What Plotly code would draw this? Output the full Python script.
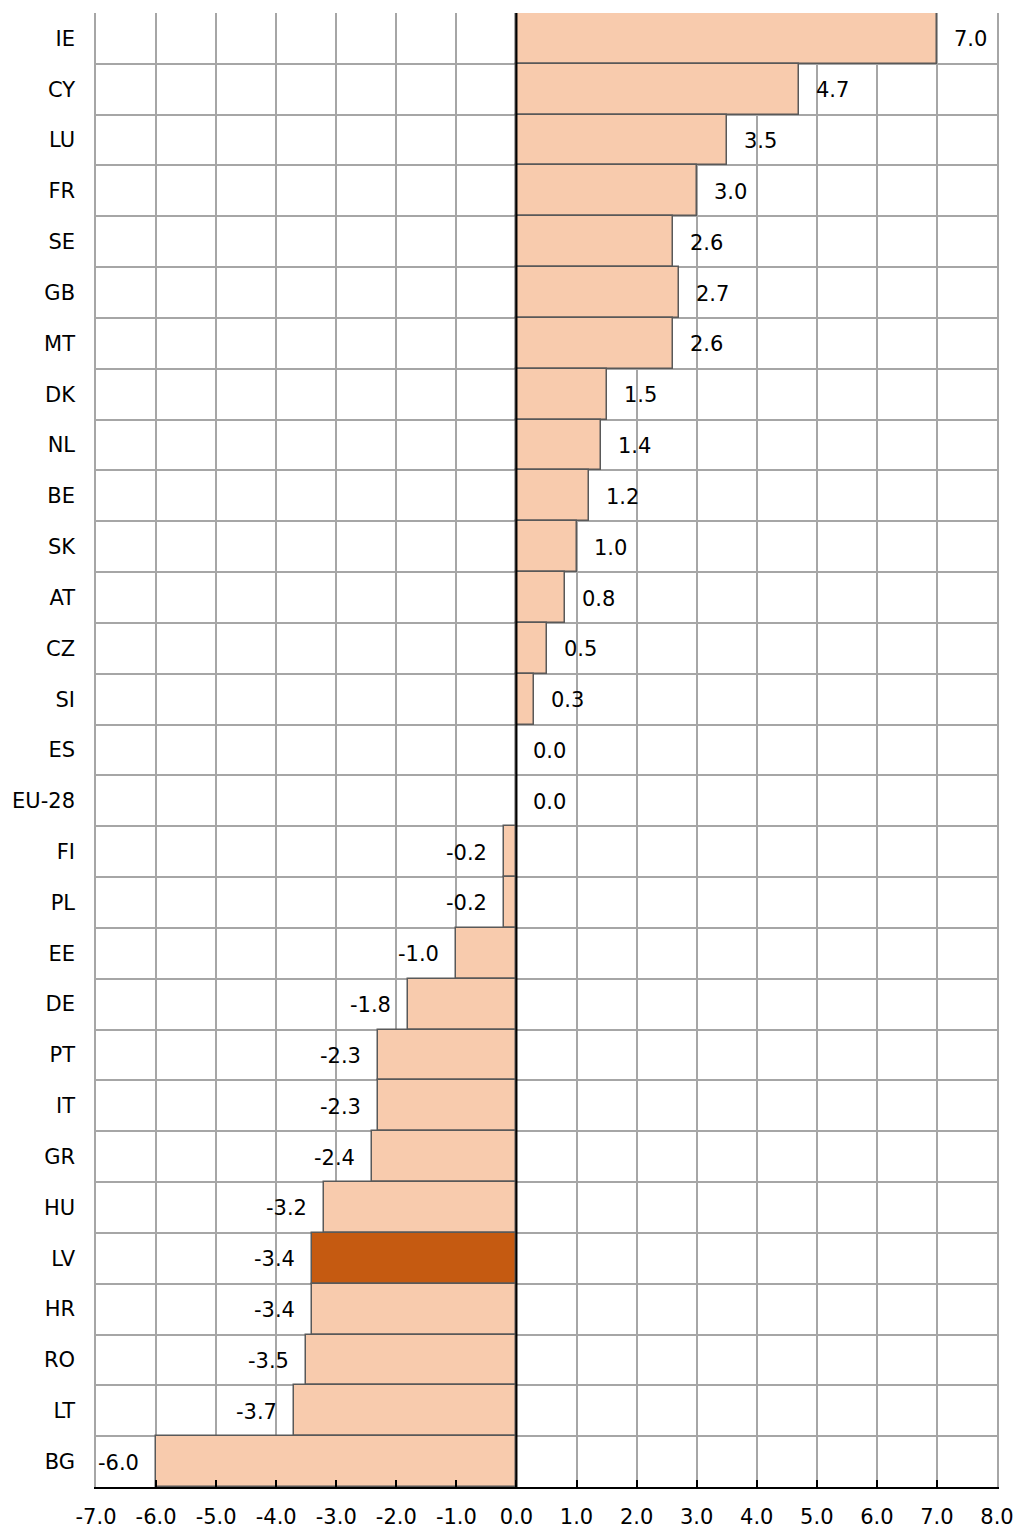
import plotly.graph_objects as go

# Countries from top to bottom and their values
countries = ["IE", "CY", "LU", "FR", "SE", "GB", "MT", "DK", "NL", "BE", "SK", "AT",
             "CZ", "SI", "ES", "EU-28", "FI", "PL", "EE", "DE", "PT", "IT", "GR",
             "HU", "LV", "HR", "RO", "LT", "BG"]
values = [7.0, 4.7, 3.5, 3.0, 2.6, 2.7, 2.6, 1.5, 1.4, 1.2, 1.0, 0.8,
          0.5, 0.3, 0.0, 0.0, -0.2, -0.2, -1.0, -1.8, -2.3, -2.3, -2.4,
          -3.2, -3.4, -3.4, -3.5, -3.7, -6.0]
highlight = "LV"

x_tick_values = [-7, -6, -5, -4, -3, -2, -1, 0, 1, 2, 3, 4, 5, 6, 7, 8]
x_tick_labels = ["-7.0", "-6.0", "-5.0", "-4.0", "-3.0", "-2.0", "-1.0", "0.0",
                 "1.0", "2.0", "3.0", "4.0", "5.0", "6.0", "7.0", "8.0"]

FONT = "DejaVu Sans, Verdana, sans-serif"
FSIZE = 21
BASE = "#F8CBAD"
HIGH = "#C55A11"
EDGE = "#595959"
GRID = "#A6A6A6"

colors = [HIGH if c == highlight else BASE for c in countries]

fig = go.Figure(go.Bar(
    x=values,
    y=countries,
    orientation="h",
    marker=dict(color=colors, line=dict(color=EDGE, width=1.5)),
    hoverinfo="x+y",
))

# value labels beside the bar ends
for c, v in zip(countries, values):
    fig.add_annotation(
        x=v, y=c, text=f"{v:.1f}", showarrow=False,
        xanchor="left" if v >= 0 else "right",
        xshift=15 if v >= 0 else -15,
        yshift=-1,
        font=dict(family=FONT, size=FSIZE, color="#000000"),
    )

# zero reference line above the bars
fig.add_shape(type="line", xref="x", yref="paper", x0=0, x1=0, y0=0, y1=1,
              line=dict(color="#000000", width=2), layer="above")

fig.update_layout(
    width=1017, height=1528,
    margin=dict(l=96, r=20, t=13, b=41),
    paper_bgcolor="white", plot_bgcolor="white",
    bargap=0,
    showlegend=False,
    font=dict(family=FONT, size=FSIZE, color="#000000"),
    xaxis=dict(
        range=[-7, 8],
        automargin=False,
        tickmode="array", tickvals=x_tick_values, ticktext=x_tick_labels,
        showgrid=True, gridcolor=GRID, gridwidth=1.5,
        zeroline=False,
        showline=True, linecolor="#000000", linewidth=2,
        ticks="inside", ticklen=7, tickwidth=2, tickcolor="#000000",
        ticklabelstandoff=10,
        tickfont=dict(family=FONT, size=FSIZE),
    ),
    yaxis=dict(
        type="category",
        automargin=False,
        autorange="reversed",
        tickson="boundaries",
        showgrid=True, gridcolor=GRID, gridwidth=1.5,
        showline=True, linecolor=GRID, linewidth=1.5, mirror=True,
        ticks="", ticklabelstandoff=15,
        tickfont=dict(family=FONT, size=FSIZE),
    ),
)

fig.write_html("out.html")
